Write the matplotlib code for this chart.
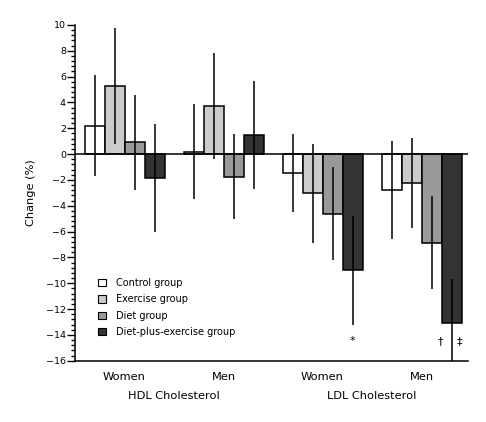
import matplotlib
matplotlib.use("Agg")
import matplotlib.pyplot as plt
from matplotlib.patches import Patch
from matplotlib.ticker import MultipleLocator, AutoMinorLocator
import numpy as np

plt.rcParams['font.family'] = ['DejaVu Sans']

series = ["Control group", "Exercise group", "Diet group", "Diet-plus-exercise group"]
colors = ["#ffffff", "#cccccc", "#999999", "#333333"]
subgroups = ["Women", "Men", "Women", "Men"]
panels = ["HDL Cholesterol", "LDL Cholesterol"]

# rows: series; columns: HDL women, HDL men, LDL women, LDL men
means = [
    [2.2, 0.2, -1.45, -2.75],
    [5.3, 3.7, -3.05, -2.25],
    [0.9, -1.75, -4.6, -6.85],
    [-1.85, 1.5, -9.0, -13.1],
]
errs = [
    [3.9, 3.7, 3.0, 3.8],
    [4.5, 4.1, 3.8, 3.5],
    [3.7, 3.3, 3.6, 3.6],
    [4.2, 4.2, 4.2, 3.4],
]
sig_labels = ["*", "†", "‡"]
sig_value = -14.5

fig = plt.figure(figsize=(4.86, 4.22), dpi=100)
ax = fig.add_axes([75/486, 1-360.7/422, (467.7-75)/486, (360.7-25)/422])

spacing = 4.95
centers = np.arange(4) * spacing
width = 1.0
offsets = [-1.5, -0.5, 0.5, 1.5]

for i in range(4):
    xs = centers + offsets[i]
    ax.bar(xs, means[i], width=width, color=colors[i], edgecolor="black",
           linewidth=1.1, zorder=2)
    ax.errorbar(xs, means[i], yerr=errs[i], fmt="none", ecolor="black",
                elinewidth=1.1, capsize=0, zorder=3)

ax.axhline(0, color="black", linewidth=1.1, zorder=4)

# significance markers
dx = centers[2] + offsets[3]
ax.text(dx, sig_value, sig_labels[0], ha="center", va="center", fontsize=8)
mx = centers[3] + offsets[3]
ax.text(mx - 0.57, sig_value, sig_labels[1], ha="center", va="center", fontsize=8)
ax.text(mx + 0.38, sig_value, sig_labels[2], ha="center", va="center", fontsize=8)

ax.set_xlim((75-124.5)/20, (467.7-124.5)/20)
ax.set_ylim(-16, 10)
ax.yaxis.set_major_locator(MultipleLocator(2))
ax.yaxis.set_minor_locator(AutoMinorLocator(5))
ax.tick_params(axis="y", which="major", length=5.5, width=1, labelsize=6.8, pad=1)
ax.tick_params(axis="y", which="minor", length=3, width=1)
ax.set_xticks(centers)
ax.set_xticklabels(subgroups, fontsize=8.2)
ax.tick_params(axis="x", length=0, pad=8)

for s in ["top", "right"]:
    ax.spines[s].set_visible(False)
ax.spines["left"].set_linewidth(1.1)
ax.spines["bottom"].set_linewidth(1.1)

ax.set_ylabel("Change (%)", fontsize=8.2, labelpad=7)

for k, name in enumerate(panels):
    cx = (centers[2*k] + centers[2*k+1]) / 2
    ax.text(cx, -18.76, name, ha="center", va="center", fontsize=8.2,
            transform=ax.transData, clip_on=False)

handles = [Patch(facecolor=c, edgecolor="black", linewidth=0.8) for c in colors]
fig.legend(handles, series, loc="upper left", bbox_to_anchor=(98/486, 1-278/422),
           frameon=False, fontsize=7, handlelength=0.8, handleheight=0.8,
           handletextpad=1.1, labelspacing=0.65, borderpad=0, borderaxespad=0)

fig.savefig("out.png", dpi=100)
